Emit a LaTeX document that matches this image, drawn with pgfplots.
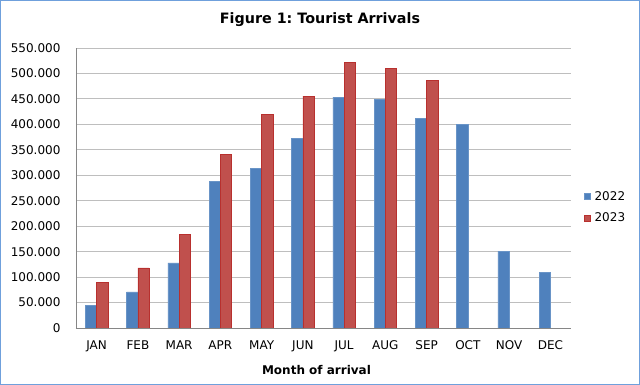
\documentclass[border=0pt]{standalone}
\usepackage{fontspec}
\setmainfont{DejaVu Sans}
\usepackage{pgfplots}
\pgfplotsset{compat=1.18}
\definecolor{bblue}{HTML}{4F81BD}
\definecolor{bred}{HTML}{C0504D}
\definecolor{bredd}{HTML}{B8302E}
\definecolor{frame}{HTML}{6FA0DC}
\definecolor{gridc}{HTML}{BEBEBE}
\definecolor{axc}{HTML}{868686}
\frenchspacing
\begin{document}
\begin{tikzpicture}[x=1pt,y=1pt]
\draw[frame, line width=1.2pt] (0.6,0.6) rectangle (639.4,384.4);
\node[font=\fontsize{14.3}{16}\selectfont\bfseries] at (320,365) {Figure 1: Tourist Arrivals};
\begin{axis}[
  at={(76pt,57pt)}, anchor=south west,
  scale only axis, width=495pt, height=280pt,
  ybar=0pt, bar width=11.3pt,
  xmin=-0.5, xmax=11.5, ymin=0, ymax=550000,
  xtick={0,...,11},
  xticklabels={JAN,FEB,MAR,APR,MAY,JUN,JUL,AUG,SEP,OCT,NOV,DEC},
  ytick={0,50000,100000,150000,200000,250000,300000,350000,400000,450000,500000,550000},
  yticklabels={0,50.000,100.000,150.000,200.000,250.000,300.000,350.000,400.000,450.000,500.000,550.000},
  scaled y ticks=false,
  yticklabel style={font=\fontsize{12}{14}\selectfont, xshift=-12pt},
  xticklabel style={font=\fontsize{12}{14}\selectfont, yshift=-9pt},
  major tick length=0pt,
  ymajorgrids, grid style={gridc, line width=0.9pt},
  axis x line*=bottom, axis y line*=left,
  axis line style={axc, line width=0.9pt},
  x axis line style={-}, y axis line style={-},
  xlabel={\bfseries Month of arrival},
  xlabel style={font=\fontsize{12}{14}\selectfont, yshift=-7pt, xshift=-7pt},
  legend style={draw=none, fill=none, at={(axis description cs:1,0.432)}, anchor=west, xshift=10pt,
    font=\fontsize{12}{14}\selectfont, row sep=7pt},
  legend cell align=left,
  legend image code/.code={\fill[#1] (0pt,-3pt) rectangle (6pt,3pt);},
  legend style={nodes={inner xsep=4pt}},
]
\addplot[fill=bblue, draw=bblue!85!white] coordinates {
(0,43900) (1,70800) (2,128000) (3,288000) (4,313000) (5,372000)
(6,453600) (7,449000) (8,411700) (9,400000) (10,150700) (11,109000)};
\addplot[fill=bred, draw=bredd] coordinates {
(0,89700) (1,118000) (2,183500) (3,341000) (4,419000) (5,455600)
(6,522000) (7,510000) (8,486000)};
\legend{2022,2023}
\end{axis}
\end{tikzpicture}
\end{document}
